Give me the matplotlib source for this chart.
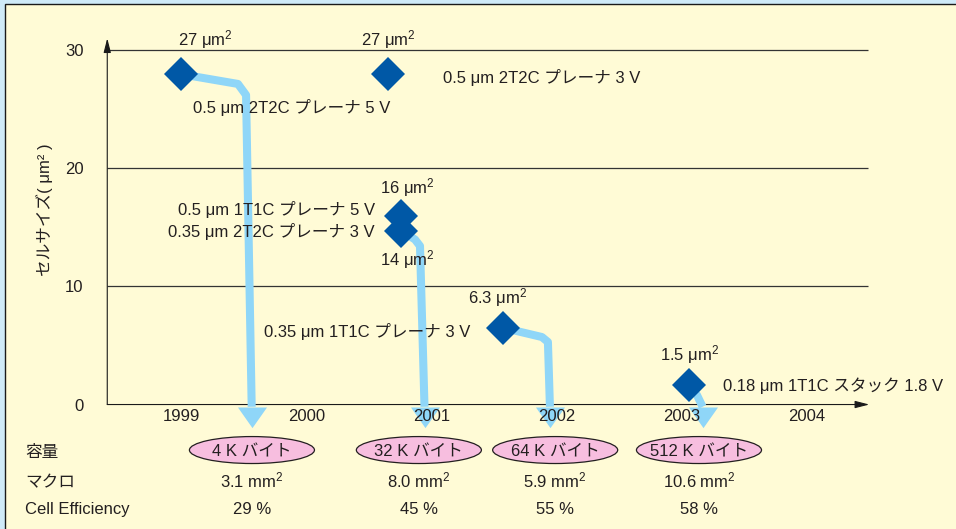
import matplotlib.pyplot as plt
import matplotlib.transforms as mtransforms
from matplotlib.patches import Ellipse, Rectangle

plt.rcParams['font.family'] = ['Liberation Sans', 'Noto Sans CJK JP']
plt.rcParams['mathtext.fontset'] = 'custom'
plt.rcParams['mathtext.rm'] = 'Liberation Sans'
plt.rcParams['mathtext.it'] = 'Liberation Sans:italic'
plt.rcParams['mathtext.default'] = 'rm'

# cell size of each FeRAM generation (year, um^2 as plotted)
years = [1999.0, 2000.65, 2000.76, 2000.76, 2001.57, 2003.06]
cell_size = [27.94, 27.94, 15.92, 14.70, 6.50, 1.65]
size_labels = ['27 μm$^2$', '27 μm$^2$', '16 μm$^2$', '14 μm$^2$', '6.3 μm$^2$', '1.5 μm$^2$']
process_labels = ['0.5 μm 2T2C プレーナ 5 V', '0.5 μm 2T2C プレーナ 3 V',
                  '0.5 μm 1T1C プレーナ 5 V', '0.35 μm 2T2C プレーナ 3 V',
                  '0.35 μm 1T1C プレーナ 3 V', '0.18 μm 1T1C スタック 1.8 V']

# arrow paths from a cell to the product that used it
arrow_x = [[1999.0, 1999.453, 1999.518, 1999.563],
           [2000.76, 2000.869, 2000.909, 2000.945],
           [2001.57, 2001.884, 2001.932, 2001.948],
           [2003.06, 2003.124, 2003.169]]
arrow_y = [[27.94, 27.12, 26.18, -0.19],
           [14.70, 13.96, 13.41, -0.19],
           [6.50, 5.71, 5.29, -0.19],
           [1.65, 0.80, -0.19]]

# products
product_year = [1999.565, 2000.90, 2001.99, 2003.14]
capacity = ['4 K バイト', '32 K バイト', '64 K バイト', '512 K バイト']
macro = ['3.1 mm$^2$', '8.0 mm$^2$', '5.9 mm$^2$', '10.6 mm$^2$']
efficiency = ['29 %', '45 %', '55 %', '58 %']

year_ticks = [1999, 2000, 2001, 2002, 2003, 2004]
size_ticks = [0, 10, 20, 30]

txt = '#231f20'
blue = '#0058a6'
light = '#8fd6f8'

fig = plt.figure(figsize=(9.56, 5.29), dpi=100)
fig.patch.set_facecolor('#cfeaf8')
fig.add_artist(Rectangle((5 / 956, -0.02), 1.05, 1 - 4.3 / 529 + 0.02,
                         transform=fig.transFigure, facecolor='#fffbd6',
                         edgecolor='#1a1a1a', lw=1, zorder=-1))

ax = fig.add_axes([0.1122, 0.2353, 0.7971, 0.6923])
ax.patch.set_visible(False)
ax.set_xlim(1998.408, 2004.502)
ax.set_ylim(0, 30.98)
for s in ax.spines.values():
    s.set_visible(False)

ax.set_yticks(size_ticks)
ax.set_xticks(year_ticks)
ax.tick_params(axis='y', length=0, pad=17, labelsize=12, labelcolor=txt)
ax.tick_params(axis='x', length=0, pad=3.5, labelsize=12, labelcolor=txt)
ax.xaxis.set_zorder(5)

ax.hlines(size_ticks[1:], 1998.408, 2004.49, color='#333333', lw=0.9, zorder=1)
ax.annotate('', xy=(1, 0), xycoords='axes fraction', xytext=(0, 0), zorder=2,
            arrowprops=dict(arrowstyle='-|>,head_length=0.86,head_width=0.22',
                            color='#1a1a1a', lw=0.8, shrinkA=0, shrinkB=0))
ax.annotate('', xy=(0, 1), xycoords='axes fraction', xytext=(0, 0), zorder=2,
            arrowprops=dict(arrowstyle='-|>,head_length=0.86,head_width=0.22',
                            color='#1a1a1a', lw=0.8, shrinkA=0, shrinkB=0))

ax.set_ylabel('セルサイズ( μm² )', fontsize=12, color=txt, va='center')
ax.yaxis.set_label_coords(-0.083, 0.531)

head = [(-14.5, 0), (14.5, 0), (0, -20.6)]
for xs, ys in zip(arrow_x, arrow_y):
    ax.plot(xs, ys, color=light, lw=5.8, solid_joinstyle='round',
            solid_capstyle='butt', zorder=3, clip_on=False)
    ax.plot(xs[-1], ys[-1], marker=head, ms=29.7, color=light, mew=0,
            zorder=3, clip_on=False)

ax.plot(years, cell_size, ls='none', marker='D', ms=17.5, color=blue,
        mew=0, zorder=4)

size_off = [(17.3, 21.1), (0.4, 21.1), (4.0, 16.8), (4.0, -25.2), (-3.4, 17.6), (0.5, 17.5)]
proc_off = [(79.2, -28.1), (39.6, -6.5), (-19.2, 1.2), (-19.2, -4.8), (-23.5, -6.5), (24.3, -4.3)]
proc_ha = ['center', 'left', 'right', 'right', 'right', 'left']
for i in range(len(years)):
    ax.annotate(size_labels[i], (years[i], cell_size[i]), xytext=size_off[i],
                textcoords='offset points', ha='center', va='baseline',
                fontsize=12, color=txt)
    ax.annotate(process_labels[i], (years[i], cell_size[i]), xytext=proc_off[i],
                textcoords='offset points', ha=proc_ha[i], va='baseline',
                fontsize=12, color=txt)

# table below the axis
for i, x in enumerate(product_year):
    ax.add_patch(Ellipse((x, -3.85), 1.0, 2.28, facecolor='#f7bedf',
                         edgecolor=txt, lw=0.9, clip_on=False, zorder=2))
    ax.text(x, -4.42, capacity[i], ha='center', va='baseline', fontsize=12, color=txt)
    ax.text(x, -7.0, macro[i], ha='center', va='baseline', fontsize=12, color=txt)
    ax.text(x, -9.26, efficiency[i], ha='center', va='baseline', fontsize=12, color=txt)

row_tr = mtransforms.blended_transform_factory(fig.transFigure, ax.transData)
for label, y in zip(['容量', 'マクロ', 'Cell Efficiency'], [-4.42, -7.0, -9.26]):
    ax.text(25 / 956, y, label, transform=row_tr, ha='left', va='baseline',
            fontsize=12, color=txt)

fig.savefig('out.png', dpi=100)
